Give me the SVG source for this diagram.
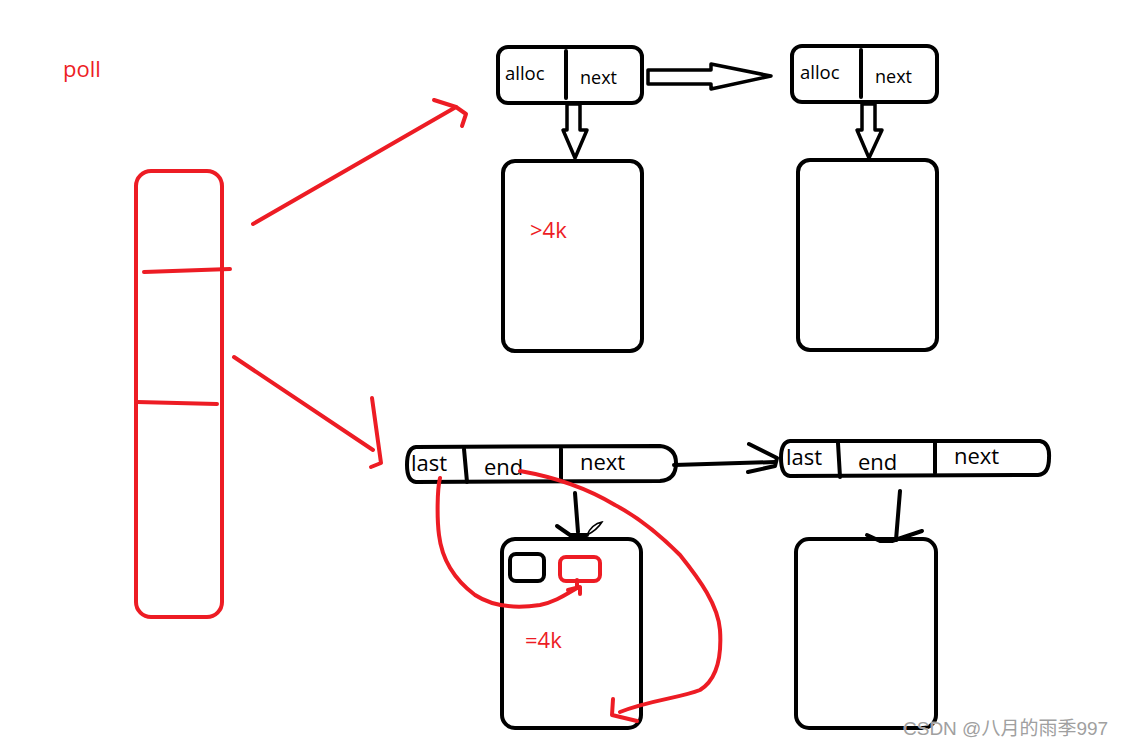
<svg xmlns="http://www.w3.org/2000/svg" width="1124" height="748" viewBox="0 0 1124 748">
<style>
.k{fill:none;stroke:#000;stroke-width:4;stroke-linecap:round;stroke-linejoin:round}
.r{fill:none;stroke:#ed1c24;stroke-width:4;stroke-linecap:round;stroke-linejoin:round}
.t{font-family:"Open Sans","Noto Sans","Liberation Sans",sans-serif;fill:#000}
.rt{font-family:"Open Sans","Noto Sans","Liberation Sans",sans-serif;fill:#ed1c24}
.wm{font-family:"Liberation Sans","Noto Sans CJK SC",sans-serif;font-size:19px;fill:#a0a0a0;stroke:#fff;stroke-width:0.6;paint-order:stroke}
</style>
<rect width="1124" height="748" fill="#fff"/>

<g id="poll-label"><text class="rt" x="63" y="77" font-size="22">poll</text></g>

<g id="poll">
<rect class="r" x="136" y="171" width="86" height="446" rx="15"/>
<path class="r" d="M144 272 L230 269"/>
<path class="r" d="M137 402 L217 404"/>
</g>

<g id="nodeA">
<rect class="k" x="498" y="47" width="144" height="56" rx="10"/>
<path class="k" d="M566 51 L566 98"/>
<text class="t" x="505" y="80" font-size="18.5">alloc</text>
<text class="t" x="580" y="84" font-size="18">next</text>
</g>

<g id="nodeB">
<rect class="k" x="792" y="46" width="145" height="56" rx="10"/>
<path class="k" d="M861 50 L861 97"/>
<text class="t" x="800" y="79" font-size="18.5">alloc</text>
<text class="t" x="875" y="83" font-size="18">next</text>
</g>

<g id="blockA">
<rect class="k" x="503" y="161" width="139" height="190" rx="12"/>
<text class="rt" x="530" y="238" font-size="22">&gt;4k</text>
</g>

<g id="blockB">
<rect class="k" x="798" y="160" width="139" height="190" rx="12"/>
</g>

<g id="nodeC">
<path class="k" d="M416 447 L660 446 Q676 448 676 463 Q676 480 660 481 L416 482 Q407 481 407 465 Q407 448 416 447 Z"/>
<path class="k" d="M464 449 L467 482"/>
<path class="k" d="M561 449 L561 479"/>
<text class="t" x="411" y="471" font-size="22">last</text>
<text class="t" x="484" y="475" font-size="22">end</text>
<text class="t" x="580" y="470" font-size="22">next</text>
</g>

<g id="nodeD">
<path class="k" d="M790 441 L1040 441 Q1050 443 1049 458 Q1049 474 1038 475 L790 476 Q781 475 781 458 Q781 442 790 441 Z"/>
<path class="k" d="M838 443 L840 477"/>
<path class="k" d="M935 443 L935 473"/>
<text class="t" x="786" y="465" font-size="22">last</text>
<text class="t" x="858" y="470" font-size="22">end</text>
<text class="t" x="954" y="464" font-size="22">next</text>
</g>

<g id="blockE">
<rect class="k" x="502" y="539" width="139" height="189" rx="13"/>
<rect class="k" x="510" y="554" width="34" height="27" rx="6"/>
<rect class="r" x="560" y="557" width="40" height="24" rx="6"/>
<text class="rt" x="525" y="648" font-size="22">=4k</text>
</g>

<g id="blockF">
<rect class="k" x="796" y="539" width="140" height="189" rx="13"/>
</g>

<g id="connectors">
<path class="r" d="M253 224 L456 107"/>
<path class="r" d="M434 100 L456 107 L466 114 L462 126"/>
<path class="r" d="M234 357 L373 450"/>
<path class="r" d="M372 398 L381 463 L371 467"/>
<path fill="#fff" stroke="#000" stroke-width="3.5" stroke-linejoin="round" d="M648 70 L711 70 L711 64 L771 76 L711 89 L711 84 L648 84 Z"/>
<path fill="#fff" stroke="#000" stroke-width="3.5" stroke-linejoin="round" d="M567 104 L580 104 L580 130 L587 130 L575 158 L563 130 L567 130 Z"/>
<path fill="#fff" stroke="#000" stroke-width="3.5" stroke-linejoin="round" d="M862 104 L875 104 L875 130 L882 130 L869 158 L857 130 L862 130 Z"/>
<path class="k" d="M674 465 L775 462"/>
<path class="k" d="M749 444 L777 458 L775 466 L748 472"/>
<path class="k" d="M575 493 L578 532"/>
<path class="k" d="M557 526 L570 535 L587 535"/>
<path fill="none" stroke="#000" stroke-width="1.5" d="M587 535 Q597 530 602 522 Q592 524 587 535 Z"/>
<path class="k" d="M900 491 L896 540"/>
<path class="k" d="M867 535 L880 541 L892 541 L922 531"/>
<path class="r" d="M440 478 C437 490 437 520 439 535 C442 560 455 580 475 595 C495 608 520 608 540 605 C555 602 565 595 577 588 L577 580"/>
<path class="r" d="M568 590 L580 587 L580 594"/>
<path class="r" d="M520 471 C560 478 590 490 615 505 C640 518 660 535 680 555 C700 580 718 605 720 630 C722 660 716 680 700 690 C680 698 650 700 620 712"/>
<path class="r" d="M613 699 L612 715 L637 721"/>
</g>

<g id="watermark"><text class="wm" x="903" y="735">CSDN @八月的雨季997</text></g>
</svg>
